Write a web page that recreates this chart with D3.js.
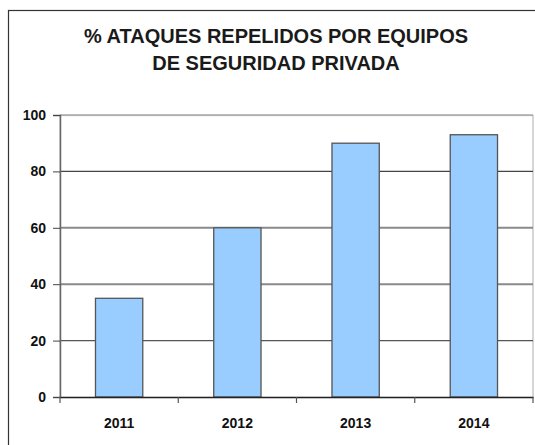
<!DOCTYPE html>
<html>
<head>
<meta charset="utf-8">
<script src="https://cdn.jsdelivr.net/npm/d3@7"></script>
<style>
  html, body { margin: 0; padding: 0; background: #fff; }
  svg { display: block; }
</style>
</head>
<body>
<script>
// Attack-repelled percentages by year
const years = ["2011", "2012", "2013", "2014"];
const values = [35, 60, 90, 93];
const yTicks = [0, 20, 40, 60, 80, 100];
const titleLines = ["% ATAQUES REPELIDOS POR EQUIPOS", "DE SEGURIDAD PRIVADA"];

const W = 535, H = 445;
const plot = { left: 60, right: 533, top: 115, bottom: 397 };
const FONT = "Liberation Sans, Arial, sans-serif";

const svg = d3.select("body").append("svg")
  .attr("width", W).attr("height", H);

// outer chart frame (runs off the right and bottom edges)
svg.append("rect")
  .attr("x", 8.5).attr("y", 10.5)
  .attr("width", 540).attr("height", 450)
  .attr("fill", "#fff").attr("stroke", "#333").attr("stroke-width", 1.2);

// title
svg.append("text")
  .attr("text-anchor", "middle")
  .attr("font-family", FONT)
  .attr("font-weight", "bold").attr("font-size", 20)
  .attr("fill", "#1a1a1a")
  .selectAll("tspan").data(titleLines).join("tspan")
  .attr("x", 276).attr("y", (d, i) => 43 + i * 27)
  .text(d => d);

const x = d3.scaleBand().domain(years)
  .range([plot.left, plot.right]).paddingInner(0.6).paddingOuter(0.3);
const y = d3.scaleLinear().domain([0, 100]).range([plot.bottom, plot.top]);

// plot area border
svg.append("rect")
  .attr("x", plot.left).attr("y", plot.top + 0.5)
  .attr("width", plot.right - plot.left).attr("height", plot.bottom - plot.top)
  .attr("fill", "none").attr("stroke", "#bbb").attr("stroke-width", 1.2);

// horizontal gridlines
const gridStyle = { 20: ["#555", 1.3], 40: ["#8a8a8a", 2], 60: ["#8a8a8a", 2], 80: ["#444", 1.3], 100: ["#aaa", 1.5] };
svg.append("g").selectAll("line")
  .data(yTicks.filter(t => t > 0)).join("line")
  .attr("x1", plot.left).attr("x2", plot.right)
  .attr("y1", d => y(d)).attr("y2", d => y(d))
  .attr("stroke", d => gridStyle[d][0])
  .attr("stroke-width", d => gridStyle[d][1]);

// bars
svg.append("g").selectAll("rect")
  .data(values).join("rect")
  .attr("x", (d, i) => x(years[i]))
  .attr("y", d => y(d))
  .attr("width", x.bandwidth())
  .attr("height", d => plot.bottom - y(d))
  .attr("fill", "#99ccff")
  .attr("stroke", "#555").attr("stroke-width", 1.3);

// y axis
const yAxis = svg.append("g")
  .attr("transform", `translate(${plot.left},0)`)
  .call(d3.axisLeft(y).tickValues(yTicks).tickSize(7).tickPadding(7));
yAxis.select(".domain").attr("stroke", "#666").attr("stroke-width", 1.5);
yAxis.selectAll(".tick line").attr("stroke", "#444");
yAxis.selectAll("text")
  .attr("font-family", FONT)
  .attr("font-weight", "bold").attr("font-size", 14).attr("fill", "#111");

// x axis with ticks between categories
const xAxis = svg.append("g")
  .attr("transform", `translate(0,${plot.bottom})`)
  .call(d3.axisBottom(x).tickSize(0).tickPadding(21));
xAxis.select(".domain").attr("stroke", "#222").attr("stroke-width", 1.3);
xAxis.selectAll("text")
  .attr("font-family", FONT)
  .attr("font-weight", "bold").attr("font-size", 14).attr("fill", "#111");

const step = x.step();
const bounds = d3.range(years.length + 1).map(i => x(years[0]) - x.paddingOuter() * step + i * step);
svg.append("g").selectAll("line")
  .data(bounds).join("line")
  .attr("x1", d => d).attr("x2", d => d)
  .attr("y1", plot.bottom).attr("y2", plot.bottom + 6)
  .attr("stroke", "#555").attr("stroke-width", 1.2);
</script>
</body>
</html>
